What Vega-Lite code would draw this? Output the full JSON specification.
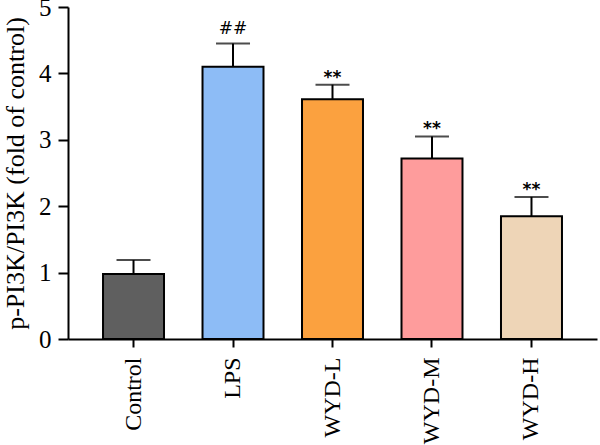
{
  "$schema": "https://vega.github.io/schema/vega-lite/v6.json",
  "autosize": "none",
  "width": 529,
  "height": 332,
  "padding": {"left": 68, "top": 7, "right": 3, "bottom": 106},
  "background": "white",
  "data": {
    "values": [
      {"group": "Control", "mean": 0.98, "upper": 1.19, "sig": ""},
      {"group": "LPS", "mean": 4.10, "upper": 4.45, "sig": "##"},
      {"group": "WYD-L", "mean": 3.61, "upper": 3.83, "sig": "**"},
      {"group": "WYD-M", "mean": 2.72, "upper": 3.05, "sig": "**"},
      {"group": "WYD-H", "mean": 1.85, "upper": 2.14, "sig": "**"}
    ]
  },
  "config": {
    "view": {"stroke": null},
    "axis": {
      "domainColor": "black",
      "domainWidth": 2,
      "tickColor": "black",
      "tickWidth": 2,
      "grid": false,
      "labelFont": "Liberation Serif",
      "labelFontSize": 24,
      "labelColor": "black",
      "titleFont": "Liberation Serif",
      "titleFontSize": 26,
      "titleFontWeight": "normal",
      "titleColor": "black"
    }
  },
  "encoding": {
    "x": {
      "field": "group",
      "type": "nominal",
      "sort": null,
      "scale": {"paddingInner": 0.387, "paddingOuter": 0.352},
      "axis": {"title": null, "labelAngle": -90, "tickSize": 8, "labelPadding": 10}
    }
  },
  "layer": [
    {
      "mark": {"type": "bar", "stroke": "black", "strokeWidth": 2},
      "encoding": {
        "y": {
          "field": "mean",
          "type": "quantitative",
          "scale": {"domain": [0, 5], "nice": false},
          "axis": {
            "values": [0, 1, 2, 3, 4, 5],
            "format": "d",
            "labelFontSize": 25,
            "tickSize": 10,
            "labelPadding": 7,
            "title": "p-PI3K/PI3K (fold of control)",
            "titlePadding": 10
          }
        },
        "fill": {
          "field": "group",
          "type": "nominal",
          "sort": null,
          "scale": {
            "domain": ["Control", "LPS", "WYD-L", "WYD-M", "WYD-H"],
            "range": ["#5f5f5f", "#8dbcf6", "#fba13f", "#fe9c9c", "#eed5b7"]
          },
          "legend": null
        }
      }
    },
    {
      "mark": {"type": "rule", "color": "black", "strokeWidth": 2},
      "encoding": {
        "y": {"field": "mean", "type": "quantitative"},
        "y2": {"field": "upper"}
      }
    },
    {
      "mark": {"type": "tick", "color": "black", "size": 34, "thickness": 2},
      "encoding": {
        "y": {"field": "upper", "type": "quantitative"}
      }
    },
    {
      "transform": [{"filter": "datum.sig == '##'"}],
      "mark": {"type": "text", "font": "DejaVu Sans", "fontSize": 17, "baseline": "alphabetic", "dy": -10, "color": "black"},
      "encoding": {
        "y": {"field": "upper", "type": "quantitative"},
        "text": {"field": "sig"}
      }
    },
    {
      "transform": [{"filter": "datum.sig == '**'"}],
      "mark": {"type": "text", "font": "DejaVu Sans", "fontSize": 17, "fontWeight": "bold", "baseline": "alphabetic", "dy": -2, "color": "black"},
      "encoding": {
        "y": {"field": "upper", "type": "quantitative"},
        "text": {"field": "sig"}
      }
    }
  ]
}
